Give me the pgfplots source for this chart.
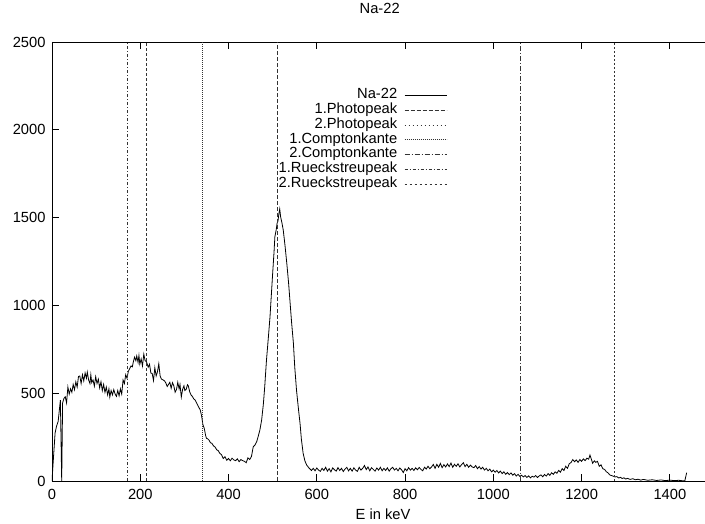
\documentclass[border=0pt]{standalone}
\usepackage{pgfplots}
\pgfplotsset{compat=1.18}
\usepackage{fontspec}
\setmainfont{Liberation Sans}
\begin{document}
\begin{tikzpicture}[font=\fontsize{14.7}{17}\selectfont]
\begin{axis}[
  scale only axis, width=662pt, height=439pt,
  xmin=0, xmax=1500, ymin=0, ymax=2500,
  xtick={0,200,...,1400}, ytick={0,500,...,2500},
  tick align=inside, major tick length=7pt,
  ytick pos=left,
  axis line style={line width=0.9pt},
  tick style={line width=0.9pt, black},
  /pgf/number format/assume math mode=true,
  /pgf/number format/1000 sep={},
  xticklabel style={yshift=-5pt},
  yticklabel style={xshift=-3pt},
  title={Na-22}, title style={at={(0.495,1)}, anchor=center, yshift=28pt},
  xlabel={E in keV}, xlabel style={at={(0.5,0)}, anchor=center, yshift=-33pt},
  legend cell align=right, legend plot pos=right,
  legend image code/.code={\draw[#1] (0pt,0pt) -- (42pt,0pt);},
  legend style={at={(0.597,0.896)}, anchor=north east, draw=none, fill=none,
    inner sep=0pt, row sep=0pt, column sep=6pt,
    nodes={inner ysep=0.4pt, inner xsep=1pt, text height=10.5pt, text depth=3.5pt}},
]
\addplot[black, line width=0.8pt] coordinates {
(0,0) (3,120) (7,273) (10,309) (14,340) (19,461) (22,0) (24,444) (27,470) (30,480) (33,445) (36,535) (39,495) (42,525) (45,505) (48,550) (51,520) (54,565) (57,535) (60,595) (63,598) (66,555) (69,605) (72,570) (75,615) (78,585) (80,620) (83,575) (86,555) (88,605) (90,560) (93,575) (96,540) (99,594) (102,555) (105,580) (108,530) (111,565) (114,515) (117,550) (120,505) (123,535) (126,490) (129,525) (131,478) (134,515) (137,490) (140,520) (143,495) (146,482) (149,515) (152,485) (155,525) (158,495) (161,575) (164,555) (167,605) (170,585) (173,625) (176,640) (179,655) (182,650) (184,675) (187,705) (190,685) (192,712) (195,675) (197,715) (199,665) (202,695) (205,655) (208,722) (211,685) (214,680) (218,648) (221,665) (224,615) (227,612) (230,572) (233,645) (236,598) (239,622) (242,668) (245,598) (248,580) (252,575) (255,570) (258,558) (261,538) (264,550) (267,562) (270,528) (273,560) (276,542) (279,505) (282,520) (285,562) (288,525) (290,550) (293,478) (296,522) (299,542) (301,515) (304,522) (307,548) (309,541) (312,508) (315,490) (318,482) (321,468) (324,462) (327,448) (330,432) (333,418) (336,404) (339,370) (342,320) (345,300) (348,260) (350,243) (353,240) (356,232) (359,218) (362,215) (366,200) (370,192) (373,178) (377,172) (380,158) (384,150) (388,128) (392,138) (396,118) (400,128) (404,115) (408,130) (412,120) (416,116) (420,126) (424,110) (428,122) (432,116) (436,112) (440,104) (444,132) (448,122) (452,140) (456,195) (460,205) (464,225) (467,252) (471,290) (475,347) (479,440) (482,537) (486,689) (490,810) (494,936) (497,1060) (500,1183) (503,1300) (505,1391) (508,1430) (510,1467) (512,1480) (514,1520) (516,1549) (518,1505) (521,1470) (524,1429) (528,1340) (532,1240) (536,1130) (539,1031) (543,900) (547,784) (550,650) (554,518) (558,420) (562,329) (565,240) (569,158) (573,115) (577,91) (582,75) (588,60) (592,72) (596,58) (600,74)
(604,62) (608,55) (612,72) (616,60) (620,78) (624,56) (628,70) (632,52) (636,75) (640,64) (644,56) (648,76) (652,60) (656,72) (660,54) (664,68) (668,78) (672,58) (676,72) (680,56) (684,75) (688,62) (692,55) (696,78) (700,62) (704,72) (708,88) (712,65) (716,80) (720,58) (724,76) (728,66) (732,56) (736,74) (740,62) (744,78) (748,58) (752,72) (756,60) (760,75) (764,56) (768,70) (772,78) (776,62) (780,72) (784,58) (788,74) (792,64) (796,48) (800,70) (804,58) (808,76) (812,62) (816,72) (820,60) (824,75) (828,64) (832,77) (836,66) (840,58) (844,78) (848,68) (852,84) (856,70) (860,80) (864,94) (868,72) (872,95) (876,78) (880,100) (884,76) (888,93) (892,80) (896,97) (900,82) (904,102) (908,78) (912,95) (916,84) (920,98) (924,80) (928,93) (932,104) (936,82) (940,95) (944,78) (948,90) (952,80) (956,76) (960,88) (964,70) (968,82) (972,68) (976,78) (980,62) (984,72) (988,58) (992,68) (996,52) (1000,62) (1004,50) (1008,60) (1012,46) (1016,56) (1020,42) (1024,52) (1028,38) (1032,48) (1036,36) (1040,46) (1044,33) (1048,42) (1052,28) (1056,38) (1060,26) (1064,33) (1068,23) (1072,31) (1076,20) (1080,29) (1084,18) (1088,27) (1092,22) (1096,31) (1100,20) (1104,29) (1108,35) (1112,24) (1116,37) (1120,28) (1124,42) (1128,32) (1132,47) (1136,38) (1140,52) (1144,44) (1148,60) (1152,50) (1156,70) (1160,60) (1164,84) (1168,72) (1172,98) (1176,105) (1180,122) (1184,110) (1188,120) (1192,106) (1196,122) (1200,112) (1204,126) (1208,116) (1212,130) (1216,124) (1219,148) (1222,125) (1225,101) (1229,115) (1232,106) (1236,112) (1240,84) (1244,92) (1248,70) (1252,66) (1256,53) (1260,46) (1264,34) (1268,31) (1272,27) (1276,23) (1280,25) (1284,17) (1288,21) (1292,14) (1296,18) (1300,11) (1304,15) (1310,9) (1316,13) (1322,7) (1328,10) (1334,5) (1340,9) (1350,4) (1360,7) (1370,3) (1380,6) (1390,2) (1400,5) (1410,2) (1420,4) (1430,1) (1434,2) (1438,47)
};
\addlegendentry{Na-22}
\addplot[black!80, line width=0.7pt, dash pattern=on 4pt off 2pt] coordinates {(511,0) (511,2500)};
\addlegendentry{1.Photopeak}
\addplot[black!80, line width=0.7pt, dash pattern=on 1.5pt off 2.5pt] coordinates {(1274,0) (1274,2500)};
\addlegendentry{2.Photopeak}
\addplot[black!80, line width=0.7pt, dash pattern=on 0.8pt off 1.2pt] coordinates {(340.7,0) (340.7,2500)};
\addlegendentry{1.Comptonkante}
\addplot[black!80, line width=0.7pt, dash pattern=on 5pt off 2pt on 1pt off 2pt] coordinates {(1061.2,0) (1061.2,2500)};
\addlegendentry{2.Comptonkante}
\addplot[black!80, line width=0.7pt, dash pattern=on 3pt off 2pt on 1pt off 2pt] coordinates {(170.3,0) (170.3,2500)};
\addlegendentry{1.Rueckstreupeak}
\addplot[black!80, line width=0.7pt, dash pattern=on 2.5pt off 2.5pt] coordinates {(212.8,0) (212.8,2500)};
\addlegendentry{2.Rueckstreupeak}
\end{axis}
\pgfresetboundingbox
\path ([shift={(-52pt,-43pt)}]current axis.south west) rectangle ([shift={(-9pt,42pt)}]current axis.north east);
\end{tikzpicture}
\end{document}
